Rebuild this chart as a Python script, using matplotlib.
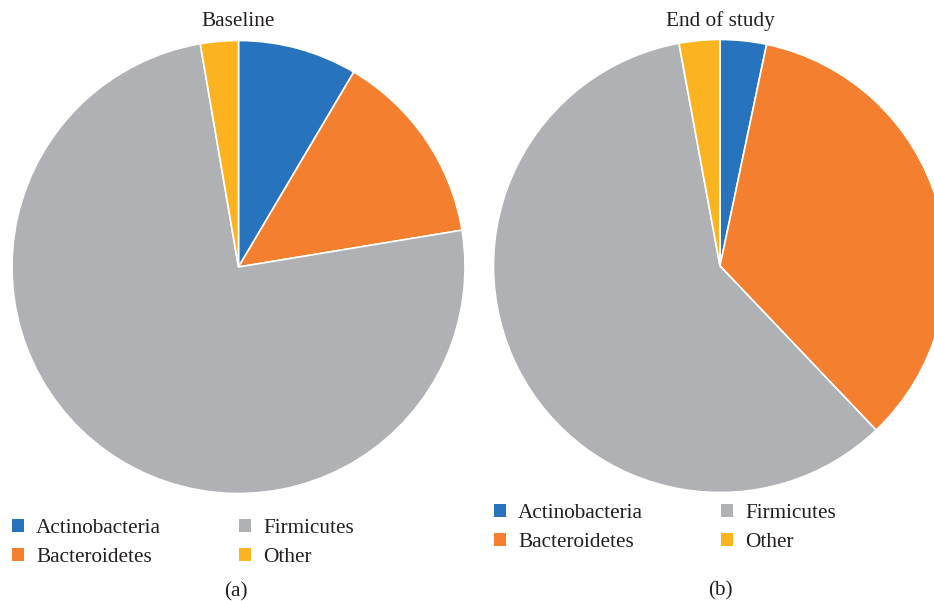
import matplotlib.pyplot as plt
from matplotlib.patches import Patch

plt.rcParams['font.family'] = ['Liberation Serif', 'DejaVu Serif']

labels = ['Actinobacteria', 'Bacteroidetes', 'Firmicutes', 'Other']
colors = ['#2773bd', '#f37f2f', '#b0b1b5', '#fbb31f']
baseline = [8.5, 13.9, 74.9, 2.7]
end_study = [3.3, 34.6, 59.2, 2.9]

W, H = 934, 601
fig = plt.figure(figsize=(W / 100, H / 100), dpi=100)
txt = '#231f20'
fs = 15.3

def px_axes(cx, cy, r):
    # axes square around a pie centre given in pixels (y from top)
    return fig.add_axes([(cx - r) / W, (H - cy - r) / H, 2 * r / W, 2 * r / H])

ax1 = px_axes(238.5, 267, 226.5)
ax2 = px_axes(720, 266, 226.5)

for ax, vals in [(ax1, baseline), (ax2, end_study)]:
    ax.pie(vals, colors=colors, startangle=90, counterclock=False, radius=1,
           wedgeprops=dict(edgecolor='white', linewidth=1.2))
    ax.set_xlim(-1, 1)
    ax.set_ylim(-1, 1)
    ax.set_aspect('equal')
    ax.axis('off')

fig.text(238.5 / W, 1 - 21 / H, 'Baseline', ha='center', va='center', fontsize=fs, color=txt)
fig.text(720 / W, 1 - 21 / H, 'End of study', ha='center', va='center', fontsize=fs, color=txt)
fig.text(236 / W, 1 - 592 / H, '(a)', ha='center', va='center', fontsize=fs, color=txt)
fig.text(720 / W, 1 - 591 / H, '(b)', ha='center', va='center', fontsize=fs, color=txt)

handles = [Patch(facecolor=c, edgecolor='none') for c in colors]
for x0, y0 in [(12, 519), (494, 504)]:
    fig.legend(handles, labels, ncol=2, loc='upper left',
               bbox_to_anchor=(x0 / W, 1 - y0 / H), frameon=False,
               borderaxespad=0, borderpad=0,
               fontsize=fs, handlelength=0.565, handleheight=0.565,
               handletextpad=0.565, columnspacing=3.67, labelspacing=0.49,
               labelcolor=txt)

fig.savefig('out.png', dpi=100)
